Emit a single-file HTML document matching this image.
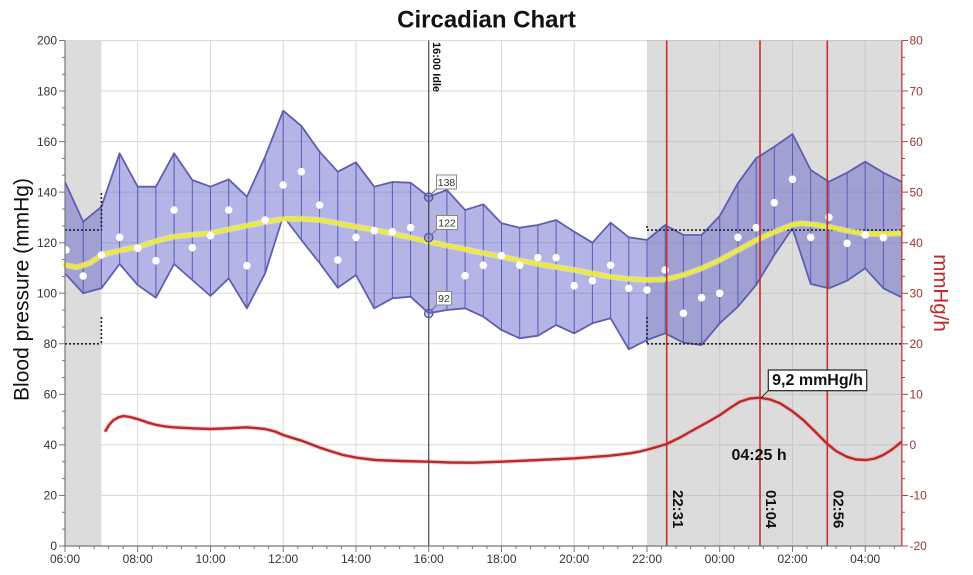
<!DOCTYPE html>
<html>
<head>
<meta charset="utf-8">
<style>
  html,body{margin:0;padding:0;background:#fff;}
  svg{display:block;font-family:"Liberation Sans",Arial,sans-serif;}
</style>
</head>
<body>
<svg width="973" height="575" viewBox="0 0 973 575" xmlns="http://www.w3.org/2000/svg">
  <rect x="0" y="0" width="973" height="575" fill="#ffffff"/>

  <!-- Title -->
  <text x="486.5" y="27.5" text-anchor="middle" font-size="24" font-weight="bold" fill="#111">Circadian Chart</text>

  <!-- gray night regions -->
  <rect x="65" y="40.5" width="36.4" height="505.5" fill="#dcdcdc"/>
  <rect x="647" y="40.5" width="254.6" height="505.5" fill="#dcdcdc"/>

  <!-- grid -->
  <g stroke="#dadad0" stroke-width="1">
    <path d="M65,40.5H901.6 M65,91.05H901.6 M65,141.6H901.6 M65,192.15H901.6 M65,242.7H901.6 M65,293.25H901.6 M65,343.8H901.6 M65,394.35H901.6 M65,444.9H901.6 M65,495.45H901.6"/>
    <path d="M137.7,40.5V546 M210.5,40.5V546 M283.2,40.5V546 M356,40.5V546 M501.5,40.5V546 M574.2,40.5V546"/>
  </g>
  <g stroke="#c8c8c8" stroke-width="1">
    <path d="M647,40.5H901.6 M647,91.05H901.6 M647,141.6H901.6 M647,192.15H901.6 M647,242.7H901.6 M647,293.25H901.6 M647,343.8H901.6 M647,394.35H901.6 M647,444.9H901.6 M647,495.45H901.6"/>
    <path d="M719.7,40.5V546 M792.5,40.5V546 M865.2,40.5V546"/>
  </g>

  <!-- band -->
  <polygon fill="rgba(84,84,200,0.44)" stroke="none"
    points="65,182 83.2,221.7 101.4,206.7 119.6,153.3 137.7,186.7 155.9,186.7 174.1,153.3 192.3,180 210.5,186.7 228.7,179.3 246.9,196.7 265.1,156.7 283.2,110.7 301.4,126 319.6,151.7 337.8,171.7 356,162.3 374.2,186.7 392.4,182 410.6,182.7 428.7,196.7 446.9,190 465.1,210 483.3,204.3 501.5,223.3 519.7,227.7 537.9,225 556.1,220 574.2,231.7 592.4,242.7 610.6,222.7 628.8,237.3 647,240 665.2,225 683.4,235 701.6,235 719.7,216 737.9,183.3 756.1,158.3 774.3,146.7 792.5,134 810.7,170 828.9,181.7 847.1,172.7 865.2,161.7 883.4,172.7 901.6,181.7 901.6,297.3 883.4,288.3 865.2,268.3 847.1,280.7 828.9,288.3 810.7,284 792.5,228.3 774.3,255 756.1,285 737.9,306.7 719.7,323.3 701.6,345 683.4,342.7 665.2,333.3 647,340 628.8,349.3 610.6,318.3 592.4,323.3 574.2,333.3 556.1,325 537.9,335.7 519.7,338.3 501.5,330 483.3,316.7 465.1,308.3 446.9,310 428.7,313.3 410.6,296.7 392.4,298.3 374.2,308.3 356,275 337.8,287.7 319.6,263 301.4,240 283.2,216 265.1,273.3 246.9,308.3 228.7,278.3 210.5,296 192.3,280 174.1,264 155.9,297.7 137.7,285 119.6,264 101.4,288.3 83.2,293.3 65,273.3"/>
  <path stroke="#5c5cb4" stroke-width="1" fill="none"
    d="M65,182V273.3 M83.2,221.7V293.3 M101.4,206.7V288.3 M119.6,153.3V264 M137.7,186.7V285 M155.9,186.7V297.7 M174.1,153.3V264 M192.3,180V280 M210.5,186.7V296 M228.7,179.3V278.3 M246.9,196.7V308.3 M265.1,156.7V273.3 M283.2,110.7V216 M301.4,126V240 M319.6,151.7V263 M337.8,171.7V287.7 M356,162.3V275 M374.2,186.7V308.3 M392.4,182V298.3 M410.6,182.7V296.7 M428.7,196.7V313.3 M446.9,190V310 M465.1,210V308.3 M483.3,204.3V316.7 M501.5,223.3V330 M519.7,227.7V338.3 M537.9,225V335.7 M556.1,220V325 M574.2,231.7V333.3 M592.4,242.7V323.3 M610.6,222.7V318.3 M628.8,237.3V349.3 M647,240V340 M665.2,225V333.3 M683.4,235V342.7 M701.6,235V345 M719.7,216V323.3 M737.9,183.3V306.7 M756.1,158.3V285 M774.3,146.7V255 M792.5,134V228.3 M810.7,170V284 M828.9,181.7V288.3 M847.1,172.7V280.7 M865.2,161.7V268.3 M883.4,172.7V288.3 M901.6,181.7V297.3"/>
  <polyline fill="none" stroke="#5f5fb0" stroke-width="1.8" stroke-linejoin="round"
    points="65,182 83.2,221.7 101.4,206.7 119.6,153.3 137.7,186.7 155.9,186.7 174.1,153.3 192.3,180 210.5,186.7 228.7,179.3 246.9,196.7 265.1,156.7 283.2,110.7 301.4,126 319.6,151.7 337.8,171.7 356,162.3 374.2,186.7 392.4,182 410.6,182.7 428.7,196.7 446.9,190 465.1,210 483.3,204.3 501.5,223.3 519.7,227.7 537.9,225 556.1,220 574.2,231.7 592.4,242.7 610.6,222.7 628.8,237.3 647,240 665.2,225 683.4,235 701.6,235 719.7,216 737.9,183.3 756.1,158.3 774.3,146.7 792.5,134 810.7,170 828.9,181.7 847.1,172.7 865.2,161.7 883.4,172.7 901.6,181.7"/>
  <polyline fill="none" stroke="#5f5fb0" stroke-width="1.8" stroke-linejoin="round"
    points="901.6,297.3 883.4,288.3 865.2,268.3 847.1,280.7 828.9,288.3 810.7,284 792.5,228.3 774.3,255 756.1,285 737.9,306.7 719.7,323.3 701.6,345 683.4,342.7 665.2,333.3 647,340 628.8,349.3 610.6,318.3 592.4,323.3 574.2,333.3 556.1,325 537.9,335.7 519.7,338.3 501.5,330 483.3,316.7 465.1,308.3 446.9,310 428.7,313.3 410.6,296.7 392.4,298.3 374.2,308.3 356,275 337.8,287.7 319.6,263 301.4,240 283.2,216 265.1,273.3 246.9,308.3 228.7,278.3 210.5,296 192.3,280 174.1,264 155.9,297.7 137.7,285 119.6,264 101.4,288.3 83.2,293.3 65,273.3"/>

  <!-- dotted threshold lines -->
  <g stroke="#222" stroke-width="1.6" stroke-dasharray="2,2" fill="none">
    <path d="M65,230.1H101.4 M101.4,193V230.1"/>
    <path d="M65,343.8H101.4 M101.4,317V343.8"/>
    <path d="M647,230.1H901.6 M647,226V230.1"/>
    <path d="M647,343.8H901.6 M647,317V343.8"/>
  </g>

  <!-- yellow trend -->
  <polyline fill="none" stroke="#f4f4a0" stroke-width="6" stroke-linejoin="round" stroke-linecap="round" opacity="0.6"
    points="65,265 77,267.3 90,263 101.7,255 120,250.5 138.3,246.7 155,241.5 173.3,236.7 192,234.8 210,233.3 228,229.5 246.7,225.7 265,222 283.3,219 301,218.8 320,220 330,221.7 352,226 375,230 401,235.5 428.3,241.7 447,245.5 465,249.3 483,253 501.7,256.7 520,260.5 538.3,264 556,267 575,270 592,273.5 610,276.7 628,278.8 646.7,280 666,279.3 683.3,275 701.7,268.3 720,260 738.3,250 756.7,240 775,231.7 793.3,224.5 802,223.3 811.7,224.3 828.3,226.7 846.7,230.7 865.7,234 884,234 901.7,233.3"/>
  <polyline fill="none" stroke="#ecec36" stroke-width="3.4" stroke-linejoin="round" stroke-linecap="round"
    points="65,265 77,267.3 90,263 101.7,255 120,250.5 138.3,246.7 155,241.5 173.3,236.7 192,234.8 210,233.3 228,229.5 246.7,225.7 265,222 283.3,219 301,218.8 320,220 330,221.7 352,226 375,230 401,235.5 428.3,241.7 447,245.5 465,249.3 483,253 501.7,256.7 520,260.5 538.3,264 556,267 575,270 592,273.5 610,276.7 628,278.8 646.7,280 666,279.3 683.3,275 701.7,268.3 720,260 738.3,250 756.7,240 775,231.7 793.3,224.5 802,223.3 811.7,224.3 828.3,226.7 846.7,230.7 865.7,234 884,234 901.7,233.3"/>

  <!-- white dots -->
  <g fill="#ffffff">
    <circle cx="66" cy="250" r="3.8"/><circle cx="83.2" cy="276" r="3.8"/><circle cx="101.4" cy="255" r="3.8"/>
    <circle cx="119.6" cy="237.3" r="3.8"/><circle cx="137.7" cy="248.3" r="3.8"/><circle cx="155.9" cy="260.7" r="3.8"/>
    <circle cx="174.1" cy="210" r="3.8"/><circle cx="192.3" cy="247.7" r="3.8"/><circle cx="210.5" cy="235.7" r="3.8"/>
    <circle cx="228.7" cy="210" r="3.8"/><circle cx="246.9" cy="265.7" r="3.8"/><circle cx="265.1" cy="220" r="3.8"/>
    <circle cx="283.2" cy="185" r="3.8"/><circle cx="301.4" cy="171.7" r="3.8"/><circle cx="319.6" cy="205" r="3.8"/>
    <circle cx="337.8" cy="260" r="3.8"/><circle cx="356" cy="237.3" r="3.8"/><circle cx="374.2" cy="230.7" r="3.8"/>
    <circle cx="392.4" cy="231.7" r="3.8"/><circle cx="410.6" cy="227.7" r="3.8"/><circle cx="465.1" cy="275.7" r="3.8"/>
    <circle cx="483.3" cy="265.3" r="3.8"/><circle cx="501.5" cy="255.7" r="3.8"/><circle cx="519.7" cy="265.3" r="3.8"/>
    <circle cx="537.9" cy="257.7" r="3.8"/><circle cx="556.1" cy="257.7" r="3.8"/><circle cx="574.2" cy="285.7" r="3.8"/>
    <circle cx="592.4" cy="280.7" r="3.8"/><circle cx="610.6" cy="265.3" r="3.8"/><circle cx="628.8" cy="288.3" r="3.8"/>
    <circle cx="647" cy="290" r="3.8"/><circle cx="665.2" cy="270" r="3.8"/><circle cx="683.4" cy="313.3" r="3.8"/>
    <circle cx="701.6" cy="297.7" r="3.8"/><circle cx="719.7" cy="293.3" r="3.8"/><circle cx="737.9" cy="237.3" r="3.8"/>
    <circle cx="756.1" cy="227.7" r="3.8"/><circle cx="774.3" cy="202.7" r="3.8"/><circle cx="792.5" cy="179.3" r="3.8"/>
    <circle cx="810.7" cy="237.3" r="3.8"/><circle cx="828.9" cy="217.3" r="3.8"/><circle cx="847.1" cy="243.3" r="3.8"/>
    <circle cx="865.2" cy="235" r="3.8"/><circle cx="883.4" cy="237.7" r="3.8"/>
  </g>

  <!-- red rate curve -->
  <polyline fill="none" stroke="#f0a0a0" stroke-width="4.5" stroke-linejoin="round" opacity="0.5"
    points="105,431.7 109,425 113,420.5 118,417.5 123.3,416 130,417 138.3,419.3 147,422.3 156.7,425 165,426.4 173.3,427.3 191.7,428.3 210,429 228.3,428.3 246.7,427.3 265,429 275,431.5 283.3,435 292,437.8 301.7,440.7 311,444.2 320,447.7 330,451 343,455 356.7,457.7 375,460 400,461 428.3,461.7 450,462.5 473.3,462.7 501.7,461.7 538.3,460 575,458.3 610,455.7 630,453.3 640,451.5 651,448.6 660,446 666.7,444 680,437.5 693.3,430 707,422.5 720,415 730,408 740,401.7 750,398.5 760,397.7 770,399.5 780,403.3 792,411 803.3,420 815,431.5 826.7,443.3 836,451 846.7,456.7 856,459.5 866.7,460 875,458.5 883.3,455 892,449.5 901.7,441.7"/>
  <polyline fill="none" stroke="#b82a2a" stroke-width="2.4" stroke-linejoin="round"
    points="105,431.7 109,425 113,420.5 118,417.5 123.3,416 130,417 138.3,419.3 147,422.3 156.7,425 165,426.4 173.3,427.3 191.7,428.3 210,429 228.3,428.3 246.7,427.3 265,429 275,431.5 283.3,435 292,437.8 301.7,440.7 311,444.2 320,447.7 330,451 343,455 356.7,457.7 375,460 400,461 428.3,461.7 450,462.5 473.3,462.7 501.7,461.7 538.3,460 575,458.3 610,455.7 630,453.3 640,451.5 651,448.6 660,446 666.7,444 680,437.5 693.3,430 707,422.5 720,415 730,408 740,401.7 750,398.5 760,397.7 770,399.5 780,403.3 792,411 803.3,420 815,431.5 826.7,443.3 836,451 846.7,456.7 856,459.5 866.7,460 875,458.5 883.3,455 892,449.5 901.7,441.7"/>

  <!-- red vertical markers -->
  <g stroke="#c62e2e" stroke-width="1.6">
    <path d="M666.7,40.5V546 M760,40.5V546 M827.3,40.5V546"/>
  </g>

  <!-- 16:00 idle line -->
  <path d="M428.7,40.5V546" stroke="#4a4a40" stroke-width="1.2"/>
  <text transform="translate(433,42) rotate(90)" font-size="11" font-weight="bold" fill="#111">16:00 Idle</text>

  <!-- markers at 16:00 -->
  <g stroke="#5555aa" stroke-width="1.3" fill="rgba(120,120,210,0.4)">
    <circle cx="428.7" cy="197.2" r="4.2"/>
    <circle cx="428.7" cy="237.6" r="4.2"/>
    <circle cx="428.7" cy="313.5" r="4.2"/>
  </g>
  <g stroke="#777" stroke-width="1">
    <path d="M431.5,194 L436.5,189 M431.5,234.5 L436.5,229.5 M431.5,310.5 L436.5,305"/>
  </g>
  <g fill="#fff" stroke="#888" stroke-width="1">
    <rect x="436.5" y="175" width="20" height="14"/>
    <rect x="436.5" y="215.5" width="21" height="14"/>
    <rect x="436.5" y="291.5" width="15" height="13.5"/>
  </g>
  <g font-size="10.5" fill="#333" text-anchor="middle">
    <text x="446.5" y="186">138</text>
    <text x="447" y="226.5">122</text>
    <text x="444" y="302">92</text>
  </g>

  <!-- peak annotation -->
  <path d="M761,398 L768.5,390.5" stroke="#333" stroke-width="1"/>
  <rect x="768.3" y="370" width="98.4" height="20.7" fill="#fff" stroke="#222" stroke-width="1.2"/>
  <text x="817.5" y="385" text-anchor="middle" font-size="16" font-weight="bold" fill="#111">9,2 mmHg/h</text>
  <text x="731.5" y="460" font-size="16" font-weight="bold" fill="#111">04:25 h</text>

  <!-- rotated time labels -->
  <g font-size="15" font-weight="bold" fill="#111">
    <text transform="translate(673,490) rotate(90)">22:31</text>
    <text transform="translate(766,490) rotate(90)">01:04</text>
    <text transform="translate(833.5,490) rotate(90)">02:56</text>
  </g>

  <!-- axes -->
  <path d="M65,40.5V546 M65,546H901.6" stroke="#777" stroke-width="1.2" fill="none"/>
  <path d="M901.8,40.5V546" stroke="#c04848" stroke-width="1.4"/>

  <!-- left ticks -->
  <g stroke="#777" stroke-width="1">
    <path d="M59,40.5H65 M59,91.05H65 M59,141.6H65 M59,192.15H65 M59,242.7H65 M59,293.25H65 M59,343.8H65 M59,394.35H65 M59,444.9H65 M59,495.45H65 M59,546H65"/>
    <path d="M62,57.35H65 M62,74.2H65 M62,107.9H65 M62,124.75H65 M62,158.45H65 M62,175.3H65 M62,209H65 M62,225.85H65 M62,259.55H65 M62,276.4H65 M62,310.1H65 M62,326.95H65 M62,360.65H65 M62,377.5H65 M62,411.2H65 M62,428.05H65 M62,461.75H65 M62,478.6H65 M62,512.3H65 M62,529.15H65"/>
  </g>
  <!-- right ticks -->
  <g stroke="#b84040" stroke-width="1">
    <path d="M902,40.5H908 M902,91.05H908 M902,141.6H908 M902,192.15H908 M902,242.7H908 M902,293.25H908 M902,343.8H908 M902,394.35H908 M902,444.9H908 M902,495.45H908 M902,546H908"/>
    <path d="M902,57.35H905 M902,74.2H905 M902,107.9H905 M902,124.75H905 M902,158.45H905 M902,175.3H905 M902,209H905 M902,225.85H905 M902,259.55H905 M902,276.4H905 M902,310.1H905 M902,326.95H905 M902,360.65H905 M902,377.5H905 M902,411.2H905 M902,428.05H905 M902,461.75H905 M902,478.6H905 M902,512.3H905 M902,529.15H905"/>
  </g>
  <!-- bottom ticks -->
  <g stroke="#777" stroke-width="1">
    <path d="M65,546v6 M137.7,546v6 M210.5,546v6 M283.2,546v6 M356,546v6 M428.7,546v6 M501.5,546v6 M574.2,546v6 M647,546v6 M719.7,546v6 M792.5,546v6 M865.2,546v6"/>
    <path d="M79.55,546v3 M94.1,546v3 M108.65,546v3 M123.19,546v3 M152.29,546v3 M166.84,546v3 M181.39,546v3 M195.94,546v3 M225.04,546v3 M239.58,546v3 M254.13,546v3 M268.68,546v3 M297.78,546v3 M312.33,546v3 M326.88,546v3 M341.42,546v3 M370.52,546v3 M385.07,546v3 M399.62,546v3 M414.17,546v3 M443.27,546v3 M457.82,546v3 M472.36,546v3 M486.91,546v3 M516.01,546v3 M530.56,546v3 M545.11,546v3 M559.66,546v3 M588.75,546v3 M603.3,546v3 M617.85,546v3 M632.4,546v3 M661.5,546v3 M676.05,546v3 M690.59,546v3 M705.14,546v3 M734.24,546v3 M748.79,546v3 M763.34,546v3 M777.88,546v3 M806.98,546v3 M821.53,546v3 M836.08,546v3 M850.63,546v3 M879.73,546v3 M894.27,546v3"/>
  </g>

  <!-- left tick labels -->
  <g font-size="12" fill="#333" text-anchor="end">
    <text x="57" y="44.7">200</text>
    <text x="57" y="95.3">180</text>
    <text x="57" y="145.8">160</text>
    <text x="57" y="196.4">140</text>
    <text x="57" y="246.9">120</text>
    <text x="57" y="297.5">100</text>
    <text x="57" y="348">80</text>
    <text x="57" y="398.6">60</text>
    <text x="57" y="449.1">40</text>
    <text x="57" y="499.7">20</text>
    <text x="57" y="550.2">0</text>
  </g>
  <!-- right tick labels -->
  <g font-size="12" fill="#9a3434" text-anchor="start">
    <text x="909.5" y="44.7">80</text>
    <text x="909.5" y="95.3">70</text>
    <text x="909.5" y="145.8">60</text>
    <text x="909.5" y="196.4">50</text>
    <text x="909.5" y="246.9">40</text>
    <text x="909.5" y="297.5">30</text>
    <text x="909.5" y="348">20</text>
    <text x="909.5" y="398.6">10</text>
    <text x="909.5" y="449.1">0</text>
    <text x="909.5" y="499.7">-10</text>
    <text x="909.5" y="550.2">-20</text>
  </g>
  <!-- bottom labels -->
  <g font-size="12" fill="#333" text-anchor="middle">
    <text x="65" y="563">06:00</text>
    <text x="137.7" y="563">08:00</text>
    <text x="210.5" y="563">10:00</text>
    <text x="283.2" y="563">12:00</text>
    <text x="356" y="563">14:00</text>
    <text x="428.7" y="563">16:00</text>
    <text x="501.5" y="563">18:00</text>
    <text x="574.2" y="563">20:00</text>
    <text x="647" y="563">22:00</text>
    <text x="719.7" y="563">00:00</text>
    <text x="792.5" y="563">02:00</text>
    <text x="865.2" y="563">04:00</text>
  </g>

  <!-- axis titles -->
  <text transform="translate(28.5,289.5) rotate(-90)" text-anchor="middle" font-size="21" fill="#111">Blood pressure (mmHg)</text>
  <text transform="translate(934,293) rotate(90)" text-anchor="middle" font-size="20.5" fill="#c4262a">mmHg/h</text>
</svg>
</body>
</html>
